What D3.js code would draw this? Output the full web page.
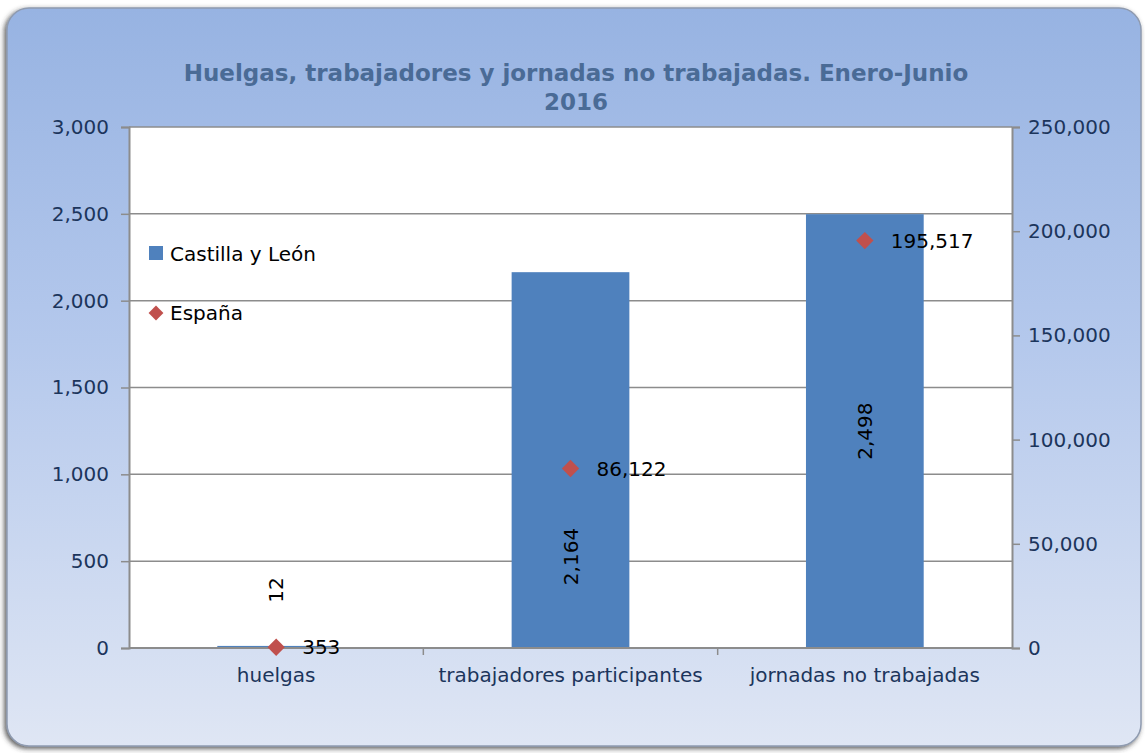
<!DOCTYPE html>
<html>
<head>
<meta charset="utf-8">
<script src="https://cdn.jsdelivr.net/npm/d3@7/dist/d3.min.js"></script>
<style>
  body { margin: 0; background: #fff; }
  text { font-family: "DejaVu Sans", sans-serif; }
</style>
</head>
<body>
<div id="chart"></div>
<script>
// categories and the two series
var categories = ["huelgas", "trabajadores participantes", "jornadas no trabajadas"];
var castilla = [12, 2164, 2498];
var espana = [353, 86122, 195517];
var leftTicks = [0, 500, 1000, 1500, 2000, 2500, 3000];
var rightTicks = [0, 50000, 100000, 150000, 200000, 250000];

var W = 1145, H = 753;
var svg = d3.select("#chart").append("svg").attr("width", W).attr("height", H);
var defs = svg.append("defs");

var grad = defs.append("linearGradient").attr("id", "bg").attr("x1", 0).attr("y1", 0).attr("x2", 0).attr("y2", 1);
grad.append("stop").attr("offset", "0%").attr("stop-color", "#97b3e2");
grad.append("stop").attr("offset", "45%").attr("stop-color", "#b4c8ec");
grad.append("stop").attr("offset", "100%").attr("stop-color", "#dfe6f4");

var shadow = defs.append("filter").attr("id", "sh").attr("x", -0.05).attr("y", -0.05).attr("width", 1.1).attr("height", 1.1);
shadow.append("feGaussianBlur").attr("in", "SourceAlpha").attr("stdDeviation", 2.5);
shadow.append("feOffset").attr("dx", -2).attr("dy", 2).attr("result", "b");
shadow.append("feFlood").attr("flood-color", "#333").attr("flood-opacity", 0.8);
shadow.append("feComposite").attr("in2", "b").attr("operator", "in");
var m = shadow.append("feMerge");
m.append("feMergeNode");
m.append("feMergeNode").attr("in", "SourceGraphic");

// frame
svg.append("rect")
  .attr("x", 7).attr("y", 8).attr("width", 1134).attr("height", 738)
  .attr("rx", 22).attr("ry", 22)
  .attr("fill", "url(#bg)")
  .attr("stroke", "#8f9bb0").attr("stroke-width", 1.5)
  .attr("filter", "url(#sh)");

// title
svg.append("text").attr("x", 576).attr("y", 81).attr("text-anchor", "middle")
  .attr("font-size", 23).attr("font-weight", "bold").attr("fill", "#4a6b96")
  .text("Huelgas, trabajadores y jornadas no trabajadas. Enero-Junio");
svg.append("text").attr("x", 576).attr("y", 110).attr("text-anchor", "middle")
  .attr("font-size", 23).attr("font-weight", "bold").attr("fill", "#4a6b96")
  .text("2016");

var pLeft = 129, pRight = 1012, pTop = 127, pBottom = 648;

var x = d3.scaleBand().domain(categories).range([pLeft, pRight]).paddingInner(0.6).paddingOuter(0.3);
var xb = d3.scaleBand().domain(categories).range([pLeft, pRight]);
var yL = d3.scaleLinear().domain([0, 3000]).range([pBottom, pTop]);
var yR = d3.scaleLinear().domain([0, 250000]).range([pBottom, pTop]);

// plot area
svg.append("rect").attr("x", pLeft).attr("y", pTop).attr("width", pRight - pLeft).attr("height", pBottom - pTop)
  .attr("fill", "#fff");

// gridlines
svg.append("g").selectAll("line").data(leftTicks.slice(1)).join("line")
  .attr("x1", pLeft).attr("x2", pRight)
  .attr("y1", function (d) { return yL(d); }).attr("y2", function (d) { return yL(d); })
  .attr("stroke", "#8c8c8c").attr("stroke-width", 1.5);

// bars
svg.append("g").selectAll("rect").data(castilla).join("rect")
  .attr("x", function (d, i) { return x(categories[i]); })
  .attr("width", x.bandwidth())
  .attr("y", function (d) { return yL(d); })
  .attr("height", function (d) { return pBottom - yL(d); })
  .attr("fill", "#4f81bd");

// axes
var fmt = d3.format(",");
var gL = svg.append("g").attr("transform", "translate(" + pLeft + ",0)")
  .call(d3.axisLeft(yL).tickValues(leftTicks).tickFormat(fmt).tickSize(8).tickPadding(12));
var gR = svg.append("g").attr("transform", "translate(" + pRight + ",0)")
  .call(d3.axisRight(yR).tickValues(rightTicks).tickFormat(fmt).tickSize(8).tickPadding(8));
var gX = svg.append("g").attr("transform", "translate(0," + pBottom + ")")
  .call(d3.axisBottom(xb).tickSize(0).tickPadding(20));
gX.selectAll(".tick").each(function (d, i) {
  if (i > 0) {
    d3.select(this).append("line").attr("x1", -xb.bandwidth() / 2).attr("x2", -xb.bandwidth() / 2)
      .attr("y1", 0).attr("y2", 7).attr("stroke", "#8c8c8c").attr("stroke-width", 1.5);
  }
});
[gL, gR, gX].forEach(function (g) {
  g.selectAll("path.domain").attr("stroke", "#8c8c8c").attr("stroke-width", 2);
  g.selectAll(".tick line").attr("stroke", "#8c8c8c").attr("stroke-width", 1.5);
  g.selectAll("text").attr("font-size", 20).attr("fill", "#1c355c")
    .style("font-family", "'DejaVu Sans', sans-serif");
});
gX.select("path.domain").attr("d", "M" + pLeft + ",0H" + pRight);

// bar labels (rotated); pushed down when they would hit the España label
svg.append("g").selectAll("text").data(castilla).join("text")
  .attr("transform", function (d, i) {
    var cx = x(categories[i]) + x.bandwidth() / 2;
    var cy = d < 200 ? yL(d) - 56 : (yL(d) + pBottom) / 2;
    var ey = yR(espana[i]);
    if (d >= 200 && Math.abs(cy - ey) < 60) cy = ey + 88;
    return "translate(" + (cx + 7) + "," + cy + ") rotate(-90)";
  })
  .attr("text-anchor", "middle").attr("font-size", 20).attr("fill", "#000")
  .text(function (d) { return fmt(d); });

// España diamonds
svg.append("g").selectAll("path").data(espana).join("path")
  .attr("transform", function (d, i) {
    return "translate(" + (xb(categories[i]) + xb.bandwidth() / 2) + "," + yR(d) + ") rotate(45)";
  })
  .attr("d", d3.symbol().type(d3.symbolSquare).size(150))
  .attr("fill", "#c0504d");
svg.append("g").selectAll("text").data(espana).join("text")
  .attr("x", function (d, i) { return xb(categories[i]) + xb.bandwidth() / 2 + 26; })
  .attr("y", function (d) { return yR(d) + 7; })
  .attr("font-size", 20).attr("fill", "#000")
  .text(function (d) { return fmt(d); });

// legend
svg.append("rect").attr("x", 149).attr("y", 246).attr("width", 14).attr("height", 14).attr("fill", "#4f81bd");
svg.append("text").attr("x", 170).attr("y", 261).attr("font-size", 20).attr("fill", "#000").text("Castilla y León");
svg.append("path").attr("transform", "translate(156,313) rotate(45)")
  .attr("d", d3.symbol().type(d3.symbolSquare).size(110)).attr("fill", "#c0504d");
svg.append("text").attr("x", 170).attr("y", 320).attr("font-size", 20).attr("fill", "#000").text("España");
</script>
</body>
</html>
